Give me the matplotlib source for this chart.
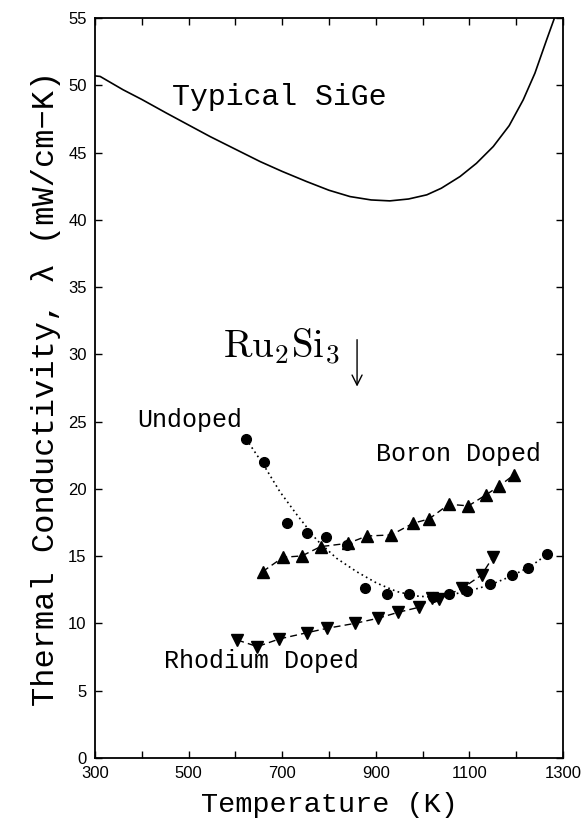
import matplotlib
matplotlib.use("Agg")
import matplotlib.pyplot as plt

# Typical SiGe (solid curve)
sige_T = [300, 311, 360, 400, 453, 500, 546, 600, 653, 700, 752, 800, 845, 890, 930,
          970, 1009, 1040, 1080, 1115, 1151, 1185, 1215, 1240, 1265, 1290]
sige_k = [50.7, 50.66, 49.67, 48.95, 47.93, 47.05, 46.19, 45.25, 44.33, 43.6, 42.85, 42.2,
          41.73, 41.48, 41.41, 41.55, 41.86, 42.35, 43.22, 44.2, 45.45, 47.0, 48.92, 50.9,
          53.38, 55.8]

# Undoped Ru2Si3 (circles) and its fitted dotted curve
undoped_T = [623, 662, 710, 752, 793, 838, 878, 925, 971, 1023, 1057, 1095, 1144, 1190, 1226, 1265]
undoped_k = [23.7, 22.0, 17.5, 16.7, 16.4, 15.8, 12.6, 12.2, 12.2, 12.0, 12.2, 12.4, 12.9, 13.6, 14.1, 15.2]
fit_T = [623, 660, 695, 731, 774, 816, 859, 902, 945, 987, 1023, 1059, 1101, 1144, 1187, 1230, 1265]
fit_k = [23.7, 21.8, 19.8, 18.1, 16.2, 14.85, 13.85, 13.0, 12.37, 12.04, 11.95, 12.12, 12.44, 12.86, 13.48, 14.23, 15.1]

# Boron doped (up triangles)
boron_T = [658, 702, 742, 782, 841, 881, 933, 980, 1014, 1056, 1098, 1135, 1164, 1195]
boron_k = [13.85, 14.92, 15.02, 15.71, 15.96, 16.5, 16.58, 17.45, 17.77, 18.86, 18.74, 19.55, 20.22, 21.04]

# Rhodium doped (down triangles)
rhodium_T = [604, 647, 694, 754, 796, 856, 904, 948, 992, 1021, 1035, 1085, 1126, 1151]
rhodium_k = [8.77, 8.28, 8.85, 9.32, 9.64, 10.01, 10.38, 10.83, 11.2, 11.92, 11.82, 12.62, 13.6, 14.97]

x_ticks = [300, 500, 700, 900, 1100, 1300]
x_minor = [400, 600, 800, 1000, 1200]
y_ticks = list(range(0, 56, 5))

mono = ["Liberation Mono", "DejaVu Sans Mono"]

fig = plt.figure(figsize=(5.87, 8.24), dpi=100)
ax = fig.add_axes([0.1618, 0.0801, 0.7973, 0.898])

ax.plot(sige_T, sige_k, color="black", lw=1.2)
ax.plot(fit_T, fit_k, color="black", lw=1.2, ls=(0, (1, 2)))
ax.plot(undoped_T, undoped_k, "o", color="black", ms=7, ls="none")
ax.plot(boron_T, boron_k, "^", color="black", ms=8, ls=(0, (5, 3)), lw=1.0)
ax.plot(rhodium_T, rhodium_k, "v", color="black", ms=8, ls=(0, (5, 3)), lw=1.0)

ax.text(693, 49.1, "Typical SiGe", family=mono, fontsize=21.5, ha="center", va="center")
ax.text(503, 25.1, "Undoped", family=mono, fontsize=18, ha="center", va="center")
ax.text(1077, 22.6, "Boron Doped", family=mono, fontsize=18, ha="center", va="center")
ax.text(655, 7.2, "Rhodium Doped", family=mono, fontsize=18, ha="center", va="center")
ax.text(697, 30.6, r"$\mathrm{Ru}_{\mathrm{2}}\mathrm{Si}_{\mathrm{3}}$", fontsize=28,
        ha="center", va="center", math_fontfamily="cm")
ax.annotate("", xy=(860, 27.4), xytext=(860, 31.3),
            arrowprops=dict(arrowstyle="->", color="black", lw=1.0, mutation_scale=18))

ax.set_xlim(300, 1300)
ax.set_ylim(0, 55)
ax.set_xticks(x_ticks)
ax.set_xticks(x_minor, minor=True)
ax.set_yticks(y_ticks)
ax.tick_params(which="both", direction="in", length=5, width=1, top=True, right=True,
               labelsize=12, pad=6)
for lab in ax.get_xticklabels() + ax.get_yticklabels():
    lab.set_family("Liberation Sans")
for sp in ax.spines.values():
    sp.set_linewidth(1.3)

ax.set_xlabel("Temperature (K)", family=mono, fontsize=20.5, labelpad=8)
ax.set_ylabel("Thermal Conductivity, λ (mW/cm\u2212K)", family=mono, fontsize=23, labelpad=5)

fig.savefig("out.png", dpi=100)
